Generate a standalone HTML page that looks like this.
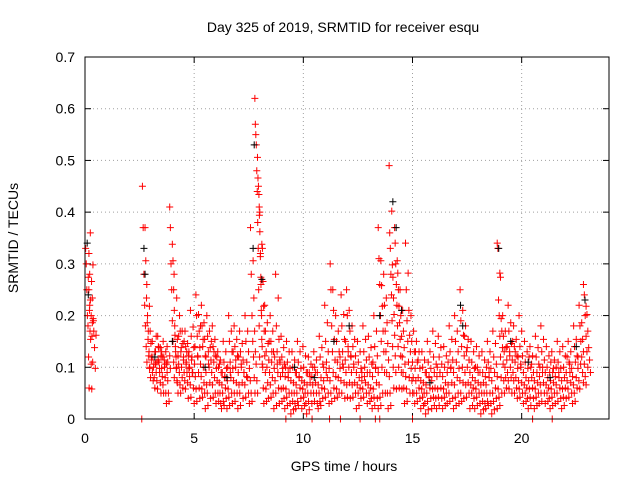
<!DOCTYPE html>
<html><head><meta charset="utf-8"><style>
body{margin:0;background:#fff}
svg{display:block;font-family:"Liberation Sans",sans-serif}
</style></head><body>
<svg id="chart" width="640" height="480">
<rect width="640" height="480" fill="#fff"/>
<g id="grid"></g>
<g id="ticks"></g>
<g id="red"></g>
<g id="black"></g>
<rect x="85" y="57" width="524" height="362" fill="none" stroke="#000" stroke-width="1"/>
<text x="343" y="32" text-anchor="middle" font-size="14">Day 325 of 2019, SRMTID for receiver esqu</text>
<text x="344" y="471" text-anchor="middle" font-size="14">GPS time / hours</text>
<text transform="translate(18,238) rotate(-90)" text-anchor="middle" font-size="14">SRMTID / TECUs</text>
</svg>
<script>
const xTicks=[0,5,10,15,20];
const yTicks=[0,0.1,0.2,0.3,0.4,0.5,0.6,0.7];
const binHours=[0.05,0.2,2.65,2.85,3.1,3.35,3.6,3.9,4.1,4.35,4.6,4.85,5.1,5.35,5.6,5.85,6.1,6.35,6.6,6.85,7.1,7.35,7.6,7.8,8.0,8.25,8.5,8.75,9.0,9.25,9.5,9.75,10.0,10.25,10.5,10.75,11.0,11.25,11.5,11.75,12.0,12.25,12.5,12.75,13.0,13.25,13.45,13.7,13.95,14.2,14.45,14.7,14.95,15.2,15.45,15.7,15.95,16.2,16.45,16.7,16.95,17.2,17.45,17.7,17.95,18.2,18.45,18.7,18.9,19.15,19.4,19.65,19.9,20.15,20.4,20.65,20.9,21.15,21.4,21.65,21.9,22.15,22.4,22.65,22.85];
const binValues=[
[.33,.3,.25,.2,.18,.12,.06,.22,.36],[.32,.28,.23,.2,.16,.11,.19],
[.45,.37,.28,.22,.18,.14,.11],[.26,.2,.17,.13,.1,.08,.12],[.15,.12,.1,.08,.06,.13,.16,.11],
[.16,.14,.11,.09,.07,.05,.13,.12],[.15,.12,.1,.08,.05,.03,.14,.11],[.41,.37,.3,.25,.19,.15,.11,.08],
[.28,.18,.14,.12,.1,.07,.05,.16],[.2,.17,.13,.1,.08,.06,.12,.15],[.17,.14,.11,.09,.07,.04,.13,.1],
[.21,.16,.12,.09,.06,.03,.14],[.24,.2,.16,.12,.09,.06,.04,.18],[.22,.18,.14,.1,.07,.05,.02,.12],
[.2,.16,.13,.1,.07,.04,.15],[.18,.14,.11,.08,.05,.03,.12],[.13,.1,.07,.05,.03,.02,.09],
[.15,.11,.08,.06,.04,.02,.1],[.2,.15,.11,.08,.05,.03,.13],[.18,.14,.1,.07,.05,.02,.12],
[.17,.13,.1,.07,.04,.09],[.2,.15,.11,.08,.05,.03],[.37,.28,.2,.15,.12,.08,.05],
[.62,.57,.55,.53,.48,.44,.38,.33,.25,.18,.12],[.41,.4,.32,.26,.2,.14,.1,.06,.03],
[.22,.17,.13,.1,.07,.04,.15],[.2,.15,.11,.08,.05,.02,.12],[.28,.18,.13,.09,.06,.03,.11],
[.16,.12,.09,.06,.04,.02,.1],[.15,.11,.08,.05,.03,.01],[.13,.1,.07,.05,.03,.02,.09],
[.15,.11,.08,.06,.04,.02],[.14,.1,.07,.05,.03,.01,.09],[.12,.09,.07,.05,.03,.1],
[.13,.1,.07,.05,.03,.02],[.16,.12,.08,.06,.04,.1],[.22,.15,.11,.08,.05,.03],
[.3,.25,.18,.13,.09,.06,.04],[.2,.15,.11,.08,.05,.12],[.24,.18,.13,.1,.07,.04,.15],
[.25,.2,.14,.1,.07,.04,.12],[.18,.14,.1,.07,.05,.02],[.15,.11,.08,.06,.04,.09],
[.18,.13,.1,.07,.05,.03],[.16,.12,.09,.06,.04,.02,.11],[.2,.14,.1,.07,.04,.02],
[.37,.31,.26,.2,.15,.1,.05],[.28,.22,.17,.13,.09,.05,.02],[.49,.36,.33,.28,.24,.19,.14,.1,.06],
[.37,.34,.3,.26,.22,.18,.14,.1,.06],[.25,.2,.16,.12,.09,.06,.03],[.34,.25,.19,.15,.11,.08,.05],
[.2,.15,.11,.08,.05,.03,.13],[.15,.11,.08,.06,.04,.02],[.13,.1,.07,.05,.03,.01,.09],
[.15,.11,.08,.06,.04,.02],[.17,.12,.09,.06,.04,.02,.1],[.16,.12,.09,.06,.04,.02],
[.14,.1,.07,.05,.03,.11],[.18,.13,.1,.07,.04,.02],[.2,.15,.11,.08,.05,.03],
[.25,.19,.14,.1,.07,.04,.16],[.18,.13,.1,.07,.05,.02],[.15,.11,.08,.06,.04,.02,.1],
[.14,.1,.07,.05,.03,.01],[.13,.09,.07,.05,.03,.02,.1],[.15,.11,.08,.05,.03,.01],
[.17,.12,.09,.06,.04,.02],[.34,.33,.23,.2,.16,.12,.08,.05],[.2,.16,.13,.1,.08,.06,.14],
[.22,.17,.13,.1,.08,.05,.15],[.18,.14,.11,.08,.06,.04,.12],[.2,.14,.1,.07,.05,.03],
[.15,.11,.08,.06,.04,.02,.12],[.14,.1,.08,.06,.04,.02],[.16,.12,.09,.07,.05,.03,.1],
[.18,.13,.1,.07,.05,.03],[.14,.1,.08,.06,.04,.02,.11],[.13,.09,.07,.05,.03,.1],
[.15,.11,.08,.06,.04,.02],[.14,.1,.08,.06,.04,.12],[.15,.11,.09,.07,.05,.03],
[.18,.14,.11,.08,.06,.12],[.22,.18,.15,.12,.09,.07],[.26,.24,.2,.16,.13,.1]];
const zeroHours=[2.6,9.2,10.4,11.2,11.7,12.6,13.3,13.5,15.0,20.5,21.4];
const blackHours=[0.1,0.15,2.7,2.75,3.2,4.0,5.5,6.5,7.75,7.7,8.1,9.6,10.5,11.4,12.1,13.5,14.1,14.25,14.5,15.8,17.3,17.2,18.95,19.5,20.3,21.3,22.9,22.5];
const blackValues=[.34,.24,.33,.28,.12,.15,.1,.08,.53,.33,.27,.1,.08,.15,.18,.2,.42,.37,.21,.07,.18,.22,.33,.15,.11,.08,.23,.14];
const NS='http://www.w3.org/2000/svg';
const X0=85,X1=609,Y0=419,Y1=57,XMAX=24,YMAX=0.7;
function sx(h){return X0+(X1-X0)*h/XMAX;}
function sy(v){return Y0-(Y0-Y1)*v/YMAX;}
function mk(tag,attrs,parent){const e=document.createElementNS(NS,tag);for(const k in attrs)e.setAttribute(k,attrs[k]);parent.appendChild(e);return e;}
const grid=document.getElementById('grid'),ticks=document.getElementById('ticks');
xTicks.forEach(t=>{const x=sx(t);
 if(t>0){const g=mk('line',{x1:x,x2:x,y1:Y1,y2:Y0,stroke:'#a0a0a0','stroke-dasharray':'1,3'},grid);
 
 }
 mk('line',{x1:x,x2:x,y1:Y0,y2:Y0-6,stroke:'#000'},ticks);
 mk('line',{x1:x,x2:x,y1:Y1,y2:Y1+6,stroke:'#000'},ticks);
 const l=mk('text',{x:x,y:Y0+24,'text-anchor':'middle','font-size':'14'},ticks);l.textContent=t;
 
 
});
yTicks.forEach(t=>{const y=sy(t);
 if(t>0&&t<0.7){const g=mk('line',{x1:X0,x2:X1,y1:y,y2:y,stroke:'#a0a0a0','stroke-dasharray':'1,3'},grid);
 
 }
 mk('line',{x1:X0,x2:X0+6,y1:y,y2:y,stroke:'#000'},ticks);
 mk('line',{x1:X1,x2:X1-6,y1:y,y2:y,stroke:'#000'},ticks);
 const l=mk('text',{x:X0-10,y:y+5,'text-anchor':'end','font-size':'14'},ticks);l.textContent=t===0?'0':t.toFixed(1);
 
 
});
function plus(h,v,col,parent){const x=sx(h),y=sy(v);
 const p=mk('path',{d:`M${x-3.5},${y}h7M${x},${y-3.5}v7`,stroke:col,'stroke-width':'1',fill:'none'},parent);
 
 }
const red=document.getElementById('red'),black=document.getElementById('black');
binHours.forEach((h,b)=>{const vals=binValues[b];const n=vals.length;
 vals.forEach((v,i)=>{const t=h+(i/n)*0.24-0.02;plus(t,v,'#ff0000',red);
  plus(t+0.12,Math.max(0.005,v*0.8+0.01),'#ff0000',red);});
});
zeroHours.forEach(h=>plus(h,0,'#ff0000',red));
blackHours.forEach((h,i)=>plus(h,blackValues[i],'#000',black));
</script>
</body></html>
